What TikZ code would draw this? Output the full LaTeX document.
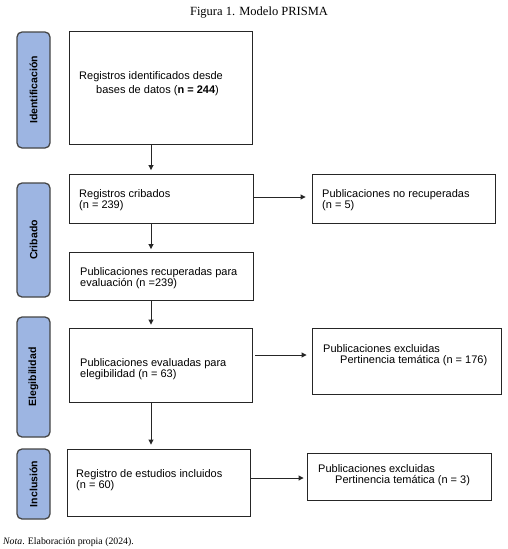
\documentclass[tikz,border=0pt]{standalone}
\usepackage{fontspec}
\setmainfont{Liberation Serif}
\setsansfont{Liberation Sans}
\usetikzlibrary{arrows.meta}
\definecolor{barblue}{HTML}{9DB5E2}
\definecolor{bargray}{HTML}{454545}
\definecolor{linegray}{HTML}{262626}
\begin{document}
\begin{tikzpicture}[x=1pt,y=-1pt,
  box/.style={draw=linegray, line width=0.9pt, fill=white, inner sep=0pt},
  phase/.style={draw=bargray, line width=1.3pt, fill=barblue, rounded corners=5pt, inner sep=0pt, minimum width=33pt},
  phaselabel/.style={rotate=90, inner sep=0pt, font=\sffamily\bfseries\fontsize{10.5}{12}\selectfont},
  txt/.style={anchor=base west, inner sep=0pt, font=\sffamily\fontsize{11}{13}\selectfont},
  arr/.style={draw=linegray, line width=0.9pt, -{Triangle[length=5pt,width=5pt]}},
]
\useasboundingbox (0,0) rectangle (508,549);

% title and note
\node[anchor=base, inner sep=0pt, font=\fontsize{12.5}{14}\selectfont] (title) at (259,15) {Figura 1. Modelo PRISMA};
\node[anchor=base west, inner sep=0pt, font=\fontsize{9.8}{12}\selectfont] (nota) at (3,544) {\textit{Nota}. Elaboración propia (2024).};

% phase bars
\node[phase, minimum height=116pt] (p1) at (33.5,90) {};
\node[phaselabel] (l1) at (p1.center) {Identificación};
\node[phase, minimum height=114pt] (p2) at (33.5,240) {};
\node[phaselabel] (l2) at (p2.center) {Cribado};
\node[phase, minimum height=120pt] (p3) at (33.5,377) {};
\node[phaselabel] (l3) at (p3.center) {Elegibilidad};
\node[phase, minimum height=70pt] (p4) at (33.5,484) {};
\node[phaselabel] (l4) at (p4.center) {Inclusión};

% main boxes
\node[box, minimum width=183pt, minimum height=113pt] (b1) at (160.5,87.5) {};
\node[box, minimum width=184pt, minimum height=49pt] (b2) at (161,198.5) {};
\node[box, minimum width=184pt, minimum height=48pt] (b3) at (161,276) {};
\node[box, minimum width=183pt, minimum height=74pt] (b4) at (160.5,365) {};
\node[box, minimum width=183pt, minimum height=67pt] (b5) at (158.5,482.5) {};
% right boxes
\node[box, minimum width=183pt, minimum height=49pt] (r1) at (403.5,198.5) {};
\node[box, minimum width=189pt, minimum height=66pt] (r2) at (406.5,361) {};
\node[box, minimum width=184pt, minimum height=47pt] (r3) at (399,476.5) {};

% texts
\node[txt] (t1a) at (79,79) {Registros identificados desde};
\node[txt] (t1b) at (96,93) {bases de datos (\textbf{n = 244})};
\node[txt] (t2a) at (79,197) {Registros cribados};
\node[txt] (t2b) at (79,208) {(n = 239)};
\node[txt] (t3a) at (80,275) {Publicaciones recuperadas para};
\node[txt] (t3b) at (80,286) {evaluación (n =239)};
\node[txt] (t4a) at (80,366) {Publicaciones evaluadas para};
\node[txt] (t4b) at (80,377) {elegibilidad (n = 63)};
\node[txt] (t5a) at (76,477) {Registro de estudios incluidos};
\node[txt] (t5b) at (76,488) {(n = 60)};
\node[txt] (s1a) at (322,197) {Publicaciones no recuperadas};
\node[txt] (s1b) at (322,208) {(n = 5)};
\node[txt] (s2a) at (323,352) {Publicaciones excluidas};
\node[txt] (s2b) at (340,363) {Pertinencia temática (n = 176)};
\node[txt] (s3a) at (318,472) {Publicaciones excluidas};
\node[txt] (s3b) at (335,483) {Pertinencia temática (n = 3)};

% vertical arrows
\draw[arr, shorten >=3.5pt] (b1.south -| 151,0) -- (b2.north -| 151,0);
\draw[arr, shorten >=2.5pt] (b2.south -| 151,0) -- (b3.north -| 151,0);
\draw[arr, shorten >=3pt] (b3.south -| 151,0) -- (b4.north -| 151,0);
\draw[arr, shorten >=4pt] (b4.south -| 151,0) -- (b5.north -| 151,0);
% horizontal arrows
\draw[arr, shorten >=6pt] (b2.east |- 0,197) -- (r1.west |- 0,197);
\draw[arr, shorten <=3pt, shorten >=5pt] (b4.east |- 0,355) -- (r2.west |- 0,355);
\draw[arr, shorten >=3pt] (b5.east |- 0,478) -- (r3.west |- 0,478);
\end{tikzpicture}
\end{document}
